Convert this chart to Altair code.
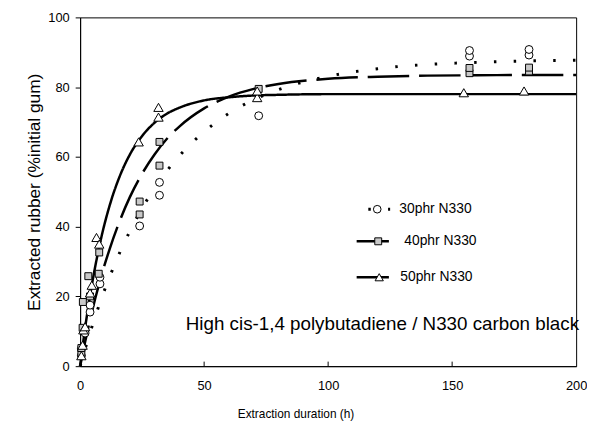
import altair as alt
import pandas as pd

t30 = [0.5, 0.5, 2, 4, 4, 8, 8, 24, 32, 32, 72, 157, 157, 181, 181]
y30 = [3, 5, 9.5, 15.5, 17.5, 23.6, 25.5, 40.2, 49, 52.7, 71.8, 88.9, 90.5, 89.2, 90.8]

t40 = [0.5, 0.5, 1, 1.1, 3.3, 4, 7.5, 7.7, 24, 24, 32, 32, 72, 157, 157, 181, 181]
y40 = [3.8, 5.2, 11, 18.4, 25.8, 20, 26.5, 32.6, 43.5, 47.2, 57.5, 64.3, 79.5, 84, 85.5, 84.5, 85.6]

t50 = [0.5, 1, 1.3, 2, 4, 4.7, 6.6, 7.7, 23.6, 31.6, 31.6, 71.4, 71.4, 154.7, 179]
y50 = [3, 6, 10.4, 11.3, 21, 23.2, 36.9, 35, 64.3, 71.4, 74.2, 77, 78.9, 78.4, 78.9]

# ---- fitted curves ----
tc = [0, 2, 4, 8, 12, 16, 20, 25, 30, 35, 40, 50, 60, 70, 80, 100, 120, 140, 160, 180, 200]
c30 = [0, 4.9, 9.6, 18.2, 25.8, 32.6, 38.6, 45.3, 51.0, 56.0, 60.3, 67.2, 72.5, 76.4, 79.3,
       83.1, 85.3, 86.5, 87.1, 87.5, 87.7]
c40 = [0, 6.9, 13.3, 24.5, 33.8, 41.7, 48.4, 55.2, 60.7, 65.2, 68.7, 73.9, 77.3, 79.5, 80.9,
       82.4, 83.0, 83.3, 83.4, 83.5, 83.5]
c50 = [0, 10.9, 20.2, 35.2, 46.3, 54.5, 60.6, 66.0, 69.8, 72.4, 74.1, 76.2, 77.1, 77.6, 77.8,
       78, 78, 78, 78, 78, 78]

labels = ["30phr N330", "40phr N330", "50phr N330"]
x_ticks = [0, 50, 100, 150, 200]
y_ticks = [0, 20, 40, 60, 80, 100]
inner_ticks = [50, 100, 150]
annotation = "High cis-1,4 polybutadiene / N330 carbon black"

# legend placement in data units
leg_x1 = [116.2, 111.5, 111.5]
leg_x2 = [125.0, 124.5, 124.5]
leg_y = [45.0, 35.8, 25.5]
leg_mx = [119.8, 120.2, 120.6]
leg_tx = [128.7, 130.7, 129.1]

FONT = "Liberation Sans"

xs = alt.Scale(domain=[0, 200], nice=False)
ys = alt.Scale(domain=[0, 100], nice=False)
X = alt.X("t:Q", scale=xs, axis=alt.Axis(title="Extraction duration (h)", values=x_ticks,
                                          ticks=False, labelFlush=False, labelPadding=14,
                                          titlePadding=16, grid=False, titleFontSize=12,
                                          titleX=218))
Y = alt.Y("y:Q", scale=ys, axis=alt.Axis(title="Extracted rubber (%initial gum)", values=y_ticks,
                                          tickSize=5, labelPadding=6, titlePadding=4, grid=False,
                                          titleFontSize=17.5))


def curve(ys_, dash, width=2.5, cap="butt"):
    df = pd.DataFrame({"t": tc, "y": ys_})
    return alt.Chart(df).mark_line(color="black", strokeWidth=width, strokeDash=dash,
                                   interpolate="monotone", strokeCap=cap).encode(x=X, y=Y)


def pts(t, y, shape, size, fill):
    df = pd.DataFrame({"t": t, "y": y})
    return alt.Chart(df).mark_point(shape=shape, size=size, filled=False, fill=fill, fillOpacity=1,
                                    color="black", strokeWidth=1).encode(x=X, y=Y)


line30 = curve(c30, [2.5, 17.5], width=3)
line40 = curve(c40, [42, 10])
line50 = curve(c50, [1, 0])

p30 = pts(t30, y30, "circle", 64, "white")
p40 = pts(t40, y40, "square", 49, "#c8c8c8")
p50 = pts(t50, y50, "triangle-up", 90, "white")

tick_df = pd.DataFrame({"t": inner_ticks, "y": [0] * 3, "y2": [1.3] * 3})
ticks = alt.Chart(tick_df).mark_rule(color="black", strokeWidth=1).encode(x=X, y=Y, y2="y2:Q")

ann = alt.Chart(pd.DataFrame({"t": [42.6], "y": [12.0], "txt": [annotation]})).mark_text(
    align="left", baseline="middle", font=FONT, fontSize=19, color="black"
).encode(x=X, y=Y, text="txt:N")

# legend
leg_lines = []
dashes = [[2.5, 17.5], [42, 10], [1, 0]]
for i in range(3):
    df = pd.DataFrame({"t": [leg_x1[i], leg_x2[i]], "y": [leg_y[i], leg_y[i]]})
    leg_lines.append(alt.Chart(df).mark_line(color="black", strokeWidth=2.5 if i else 3,
                                             strokeDash=dashes[i]).encode(x=X, y=Y))
leg_p30 = pts([leg_mx[0]], [leg_y[0]], "circle", 60, "white")
leg_p40 = pts([leg_mx[1]], [leg_y[1]], "square", 49, "#c8c8c8")
leg_p50 = pts([leg_mx[2]], [leg_y[2]], "triangle-up", 70, "white")
leg_txt = alt.Chart(pd.DataFrame({"t": leg_tx, "y": leg_y, "txt": labels})).mark_text(
    align="left", baseline="middle", font=FONT, fontSize=14, color="black"
).encode(x=X, y=Y, text="txt:N")

chart = alt.layer(
    line30, line40, line50, ticks, p30, p40, p50, ann, *leg_lines, leg_p30, leg_p40, leg_p50, leg_txt
).properties(
    width=502, height=353, padding={"left": 18, "top": 1, "right": 0, "bottom": 0}
).configure_view(
    stroke="black", strokeWidth=1
).configure_axis(
    domainColor="black", tickColor="black", labelColor="black", titleColor="black",
    labelFont=FONT, titleFont=FONT, labelFontSize=13, titleFontWeight="normal"
)

chart.save("out.html", embed_options={"renderer": "svg", "actions": False})
